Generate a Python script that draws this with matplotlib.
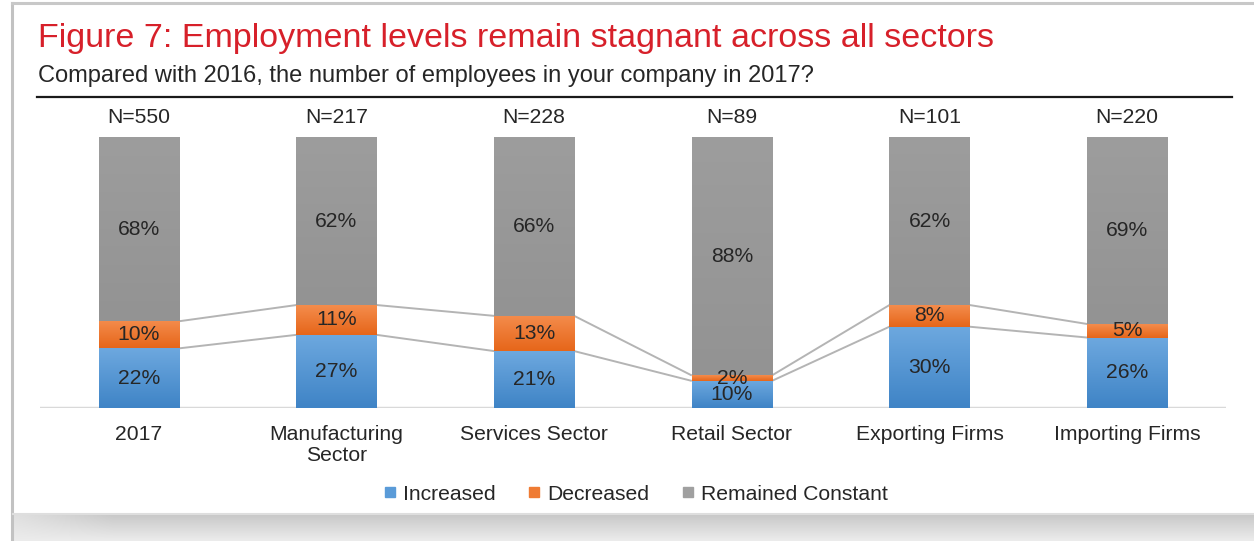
import matplotlib.pyplot as plt
import numpy as np
from matplotlib.colors import LinearSegmentedColormap
from matplotlib.lines import Line2D

plt.rcParams['font.family'] = ['Liberation Sans', 'DejaVu Sans']

categories = ["2017", "Manufacturing\nSector", "Services Sector", "Retail Sector",
              "Exporting Firms", "Importing Firms"]
sample_sizes = [550, 217, 228, 89, 101, 220]
increased = [22, 27, 21, 10, 30, 26]
decreased = [10, 11, 13, 2, 8, 5]
constant = [68, 62, 66, 88, 62, 69]

series_names = ["Increased", "Decreased", "Remained Constant"]
# (top colour, bottom colour) for each series
shades = [("#6da8df", "#3f84c6"), ("#f48c4c", "#e6661a"), ("#9d9d9d", "#939393")]
legend_colors = ["#5a9bd8", "#ef7b33", "#a0a0a0"]
text_color = "#262626"
fs = 15.2

W, H = 1254, 541
fig = plt.figure(figsize=(W / 100, H / 100), dpi=100)

ax = fig.add_axes([40 / W, (H - 408) / H, 1186 / W, 271 / H])
x = np.arange(len(categories))
width = 0.405

bottom = np.zeros(len(categories))
tops = []
for vals, (c_top, c_bot) in zip([increased, decreased, constant], shades):
    vals = np.array(vals, dtype=float)
    bars = ax.bar(x, vals, width, bottom=bottom, color=c_bot, linewidth=0, zorder=2)
    cmap = LinearSegmentedColormap.from_list("g", [c_bot, c_top])
    grad = np.linspace(0, 1, 64).reshape(-1, 1)
    for b in bars:
        x0, y0 = b.get_x(), b.get_y()
        im = ax.imshow(grad, cmap=cmap, origin="lower", aspect="auto",
                       extent=[x0, x0 + b.get_width(), y0, y0 + b.get_height()],
                       zorder=3)
        im.set_clip_path(b)
    for xi, v, bt in zip(x, vals, bottom):
        ax.text(xi, bt + v / 2, f"{int(v)}%", ha="center", va="center",
                fontsize=fs, color=text_color, zorder=5)
    bottom = bottom + vals
    tops.append(bottom.copy())

# series lines between neighbouring bars
for level in tops[:2]:
    for i in range(len(categories) - 1):
        ax.plot([x[i] + width / 2, x[i + 1] - width / 2], [level[i], level[i + 1]],
                color="#b4b4b4", lw=1.4, zorder=1, solid_capstyle="butt")

for xi, n in zip(x, sample_sizes):
    ax.text(xi, 107.3, f"N={n}", ha="center", va="center", fontsize=fs, color=text_color)

ax.set_xlim(-0.5, len(categories) - 0.5)
ax.set_ylim(0, 100)
ax.axhline(0, color="#d9d9d9", lw=2.5, zorder=1)
ax.set_xticks(x)
ax.set_xticklabels(categories, fontsize=fs, color=text_color, linespacing=1.15)
ax.tick_params(axis="x", length=0, pad=12)
ax.set_yticks([])
for s in ax.spines.values():
    s.set_visible(False)

handles = [Line2D([], [], marker="s", ls="", markersize=7.2, color=c) for c in legend_colors]
fig.legend(handles, series_names, loc="center", bbox_to_anchor=(636 / W, 1 - 494 / H),
           ncol=3, frameon=False, fontsize=fs, handlelength=0.5, handletextpad=0.35,
           columnspacing=1.6, labelcolor=text_color)

# title block
fig.text(38 / W, 1 - 38 / H, "Figure 7: Employment levels remain stagnant across all sectors",
         color="#d7202a", fontsize=24.5, va="center", ha="left")
fig.text(38 / W, 1 - 76 / H, "Compared with 2016, the number of employees in your company in 2017?",
         color=text_color, fontsize=17, va="center", ha="left")
fig.add_artist(Line2D([37 / W, 1232 / W], [1 - 97 / H, 1 - 97 / H], color="#1a1a1a", lw=1.6))

# panel frame and bottom shadow
fig.add_artist(Line2D([12 / W, 12 / W], [0, 1 - 3 / H], color="#c2c2c2", lw=2.2))
fig.add_artist(Line2D([12 / W, 1], [1 - 3 / H, 1 - 3 / H], color="#c8c8c8", lw=2.2))
fig.add_artist(Line2D([13 / W, 1], [1 - 514 / H, 1 - 514 / H], color="#dedede", lw=1.5))
sh = fig.add_axes([13 / W, 0, 1 - 13 / W, (H - 515) / H])
shade = LinearSegmentedColormap.from_list("s", ["#ececec", "#c9c9c9"])
rows = np.linspace(0, 1, 32).reshape(-1, 1)
cols = np.clip(np.linspace(0, 1, 400) / 0.08, 0, 1).reshape(1, -1)
sh.imshow(rows * (0.35 + 0.65 * cols), cmap=shade, origin="lower", aspect="auto",
          extent=[0, 1, 0, 1], vmin=0, vmax=1)
sh.axis("off")

fig.savefig("out.png", dpi=100)
